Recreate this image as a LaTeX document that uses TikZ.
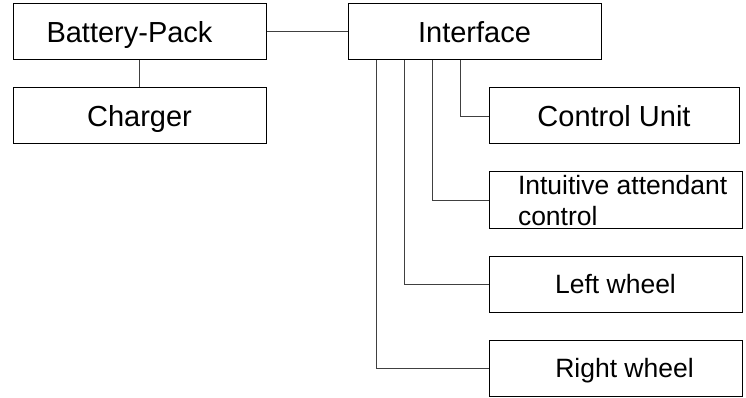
\documentclass[tikz,border=0pt]{standalone}
\usepackage{fontspec}
\setmainfont{Liberation Sans}
\usepackage{tikz}

\begin{document}
\begin{tikzpicture}[x=1pt,y=-1pt,
  block/.style={draw, line width=1pt, minimum width=253pt, minimum height=56pt,
    inner sep=0pt, text depth=0pt, font=\fontsize{29}{32}\selectfont},
  subblock/.style={block, font=\fontsize{26.5}{31}\selectfont},
  link/.style={draw=black!75, line width=0.9pt}]
  \useasboundingbox (0,0) rectangle (746,398);
  \node[block] (battery) at (139.5,31.5) {Battery-Pack\hspace*{20pt}};
  \node[block] (charger) at (139.5,116) {Charger};
  \node[block] (interface) at (474.5,32) {Interface};
  \node[block, minimum width=250pt] (control) at (614,116) {Control Unit};
  \node[subblock, text width=253pt, text depth=31pt, align=flush left] (attendant) at (615.5,200)
    {\hspace*{29pt}Intuitive attendant\\\hspace*{29pt}control};
  \node[subblock] (leftwheel) at (615.5,284) {Left wheel};
  \node[subblock] (rightwheel) at (615.5,368) {\hspace*{18pt}Right wheel};
  % connections
  \draw[link] (battery) -- (charger);
  \draw[link] (battery.east) -- (interface.west |- battery.east);
  \draw[link] (interface.south west) ++(113,0) |- (control.west);
  \draw[link] (interface.south west) ++(85,0) |- (attendant.west);
  \draw[link] (interface.south west) ++(57,0) |- (leftwheel.west);
  \draw[link] (interface.south west) ++(29,0) |- (rightwheel.west);
\end{tikzpicture}
\end{document}
